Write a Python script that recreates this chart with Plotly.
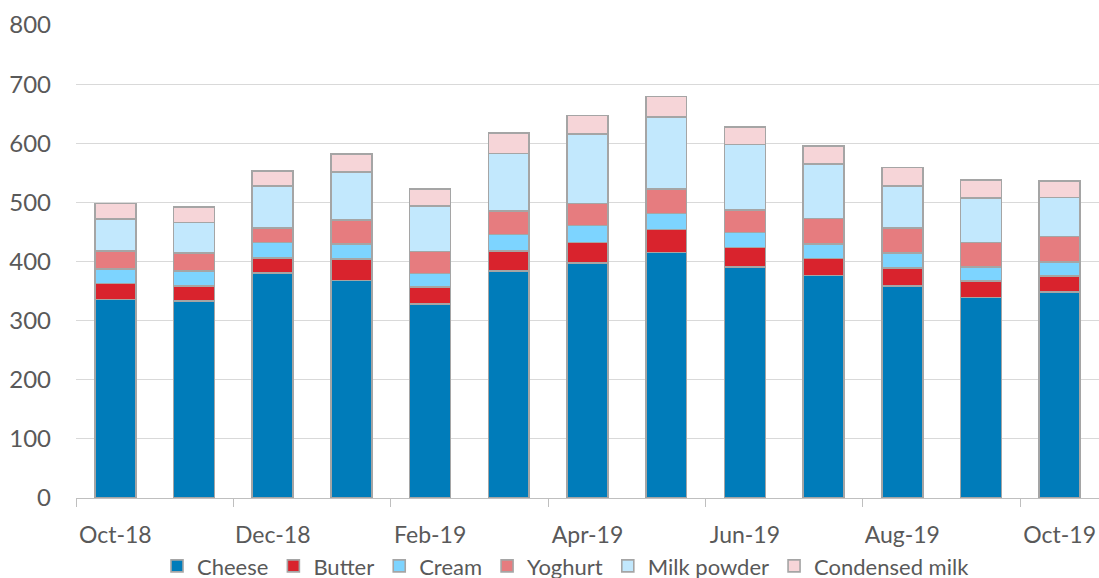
import plotly.graph_objects as go

months = ["Oct-18", "Nov-18", "Dec-18", "Jan-19", "Feb-19", "Mar-19", "Apr-19",
          "May-19", "Jun-19", "Jul-19", "Aug-19", "Sep-19", "Oct-19"]
cheese = [336, 333, 381, 368, 328, 384, 397, 415, 391, 376, 359, 339, 348]
butter = [27, 26, 25, 36, 29, 34, 35, 39, 33, 29, 30, 28, 27]
cream = [24, 25, 26, 26, 23, 28, 29, 27, 25, 25, 25, 24, 24]
yoghurt = [31, 30, 25, 40, 37, 39, 37, 42, 38, 43, 43, 41, 43]
milk_powder = [54, 52, 71, 81, 77, 98, 118, 121, 111, 92, 71, 75, 66]
condensed = [26, 26, 25, 31, 29, 34, 31, 35, 29, 30, 31, 31, 28]

series = [
    ("Cheese", cheese, "#007CBA"),
    ("Butter", butter, "#D9232D"),
    ("Cream", cream, "#7DD4FF"),
    ("Yoghurt", yoghurt, "#E67C7F"),
    ("Milk powder", milk_powder, "#C2E8FD"),
    ("Condensed milk", condensed, "#F6D5D8"),
]

x = list(range(len(months)))
fig = go.Figure()
for name, vals, col in series:
    fig.add_trace(go.Bar(
        x=x, y=vals, name=name, marker_color=col,
        marker_line_color="#A5A5A5", marker_line_width=1.6,
    ))

font = "Lato, 'Open Sans', sans-serif"
fig.update_layout(
    barmode="stack",
    bargap=0.48,
    width=1099, height=578,
    margin=dict(l=76, r=0, t=25, b=80, autoexpand=False),
    plot_bgcolor="white", paper_bgcolor="white",
    font=dict(family=font, size=23, color="#595959"),
    showlegend=True,
    legend=dict(orientation="h", x=0.479, xanchor="center", y=-0.144, yanchor="middle",
                traceorder="normal", font=dict(size=22, color="#595959"),
                bgcolor="rgba(0,0,0,0)", itemwidth=30, tracegroupgap=0),
    xaxis=dict(
        range=[-0.5, 12.5],
        tickmode="array", tickvals=x[::2], ticktext=months[::2],
        ticks="", showgrid=False,
        showline=True, linecolor="#BFBFBF", linewidth=1,
        ticklabelstandoff=16,
        minor=dict(tickmode="linear", tick0=-0.5, dtick=2, ticks="outside",
                   ticklen=8, tickcolor="#BFBFBF", tickwidth=1, showgrid=False),
        zeroline=False,
    ),
    yaxis=dict(
        range=[0, 800], dtick=100, showgrid=True, gridcolor="#D9D9D9", gridwidth=1,
        showline=False, zeroline=False, ticks="", ticklabelstandoff=24,
        tickfont=dict(size=24),
    ),
)

fig.write_html("out.html", config={"displayModeBar": False},
               post_script="document.body.style.margin='0';")
